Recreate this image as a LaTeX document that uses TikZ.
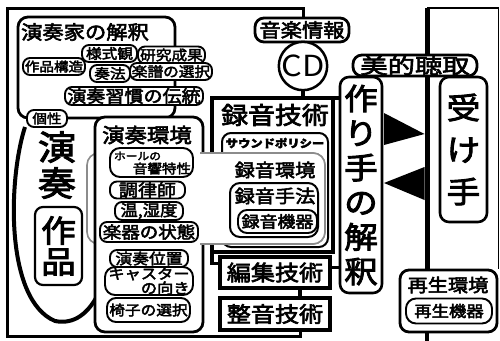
\documentclass[tikz,border=0pt]{standalone}
\usepackage{fontspec}
\setmainfont[FakeStretch=1.12, FakeBold=3]{Noto Sans CJK JP}
\newfontfamily\widefont[FakeStretch=1.3, FakeBold=3]{Noto Sans CJK JP}
\newfontfamily\plainfont[FakeStretch=1.12]{Noto Sans CJK JP}
\usepackage{tikz}
\usetikzlibrary{positioning}

\begin{document}
\begin{tikzpicture}[x=1pt, y=-1pt,
            pill/.style={draw, fill=white, rounded corners=7pt, line width=1.9pt, inner sep=0pt},
            bigbox/.style={draw, fill=white, rounded corners=10pt, line width=2.8pt, inner sep=0pt},
            techbox/.style={draw, fill=white, line width=3.5pt, inner sep=0pt, outer sep=0pt},
            greybox/.style={draw=black!45, fill=white, rounded corners=12pt, line width=1.6pt, outer sep=0pt},
            frameline/.style={line width=3pt},
            techline/.style={line width=3.5pt}]
            \useasboundingbox[fill=white] (0,0) rectangle (500,340);

            % Performer's interpretation
            \node[bigbox, minimum width=157pt, minimum height=101pt] (kaishaku) at (96.5,67.5) {};
            \node[font=\fontsize{19}{19}\selectfont] (kaishakutitle) at (85,32) {演奏家の解釈};
            \node[pill, minimum width=62pt, minimum height=17pt, font=\fontsize{13}{13}\selectfont] (kozo) at (54,66.5) {作品構造};
            \node[pill, minimum width=67pt, minimum height=17pt, font=\fontsize{14}{14}\selectfont] (kenkyu) at (171.5,55) {研究成果};
            \node[pill, minimum width=55pt, minimum height=17pt, font=\fontsize{14}{14}\selectfont] (yoshiki) at (109.5,53.5) {様式観};
            \node[pill, minimum width=82pt, minimum height=17pt, font=\fontsize{14}{14}\selectfont] (gakufu) at (171,71.5) {楽譜の選択};
            \node[pill, minimum width=40pt, minimum height=17pt, font=\fontsize{14}{14}\selectfont] (soho) at (110,73.5) {奏法};
            \node[pill, minimum width=138pt, minimum height=18pt, font=\fontsize{17}{17}\selectfont] (shukan) at (134,96) {演奏習慣の伝統};

            % Performance and the work
            \draw[line width=4pt] (25,127) .. controls (8,180) and (5,300) .. (55,321) .. controls (75,325) and (88,312) .. (96,298);
            \node[pill, minimum width=40pt, minimum height=17pt, font=\fontsize{13}{13}\selectfont] (kosei) at (47,118.5) {個性};
            \node[font=\fontsize{34}{34}\selectfont] (en) at (57,147) {演};
            \node[font=\fontsize{34}{34}\selectfont] (so) at (57,183) {奏};
            \node[bigbox, rounded corners=8pt, line width=2.2pt, minimum width=47pt, minimum height=78pt, align=center, font=\fontsize{31}{31}\selectfont] (sakuhin) at (58.5,246) {作\\品};

            % Recording technique
            \node[techbox, minimum width=121pt, minimum height=154pt] (rokuon) at (272.5,175) {};
            \node[font=\fontsize{24}{24}\selectfont] (rokuontitle) at (275,115) {録音技術};
            \node[draw, fill=white, rounded corners=9pt, line width=2pt, minimum width=106pt, minimum height=114pt] (policy) at (275,190) {};
            \node[font=\bfseries\fontsize{11}{11}\selectfont] (policytitle) at (275,143) {サウンドポリシー};

            % Recording environment, behind the performing environment
            \node[greybox, minimum width=238pt, minimum height=91pt] (kankyo) at (206,198.5) {};

            % Performing environment
            \node[bigbox, minimum width=108pt, minimum height=215pt] (enso) at (149,224.5) {};
            \node[font=\fontsize{20}{20}\selectfont] (ensotitle) at (147,135) {演奏環境};
            \node[pill, rounded corners=10pt, minimum width=83pt, minimum height=29pt] (hall) at (151.5,162.5) {};
            \node[font=\fontsize{10.5}{10.5}\selectfont] (halltop) at (137.5,156) {ホールの};
            \node[font=\fontsize{13}{13}\selectfont] (hallbottom) at (162,168.5) {音響特性};
            \node[pill, minimum width=75pt, minimum height=17pt, font=\fontsize{17}{17}\selectfont] (choritsu) at (147.5,190) {調律師};
            \node[pill, minimum width=68pt, minimum height=18pt, font=\fontsize{15.5}{15.5}\selectfont] (ondo) at (149,211) {温,湿度};
            \node[pill, minimum width=98pt, minimum height=20pt, font=\fontsize{16.5}{16.5}\selectfont] (gakki) at (149,232) {楽器の状態};
            \node[pill, minimum width=78pt, minimum height=17pt, font=\fontsize{15}{15}\selectfont] (ichi) at (149,258.5) {演奏位置};
            \node[pill, rounded corners=10pt, minimum width=88pt, minimum height=28pt, align=right, font=\fontsize{14.5}{13}\selectfont] (caster) at (149,281) {キャスター\\の向き};
            \node[pill, rounded corners=9pt, minimum width=83pt, minimum height=24pt, font=\fontsize{14}{14}\selectfont] (isu) at (148.5,310) {椅子の選択};

            % Recording environment again, over the right edge of the performing environment
            \begin{scope}
                \clip (200,140) rectangle (340,260);
                \draw[greybox] (kankyo.north west) rectangle (kankyo.south east);
            \end{scope}
            \node[font=\fontsize{18}{18}\selectfont] (kankyotitle) at (275,170) {録音環境};
            \node[draw, fill=white, rounded corners=10pt, line width=2pt, minimum width=88pt, minimum height=54pt] (shuho) at (274,210) {};
            \node[font=\fontsize{18}{18}\selectfont] (shuhotitle) at (275,196) {録音手法};
            \node[pill, rounded corners=9pt, minimum width=79pt, minimum height=23pt, font=\fontsize{16}{16}\selectfont] (kiki) at (277.5,221.5) {録音機器};

            % Editing and mastering
            \node[techbox, minimum width=110pt, minimum height=31pt, font=\fontsize{21.5}{21.5}\selectfont] (henshu) at (275,272.5) {編集技術};
            \node[techbox, minimum width=110pt, minimum height=32pt, font=\fontsize{21.5}{21.5}\selectfont] (seion) at (275,314) {整音技術};
            \draw[techline] (rokuon.south west) |- ([yshift=9pt]henshu.west);
            \draw[techline] ([xshift=25pt]henshu.south) -- ([xshift=25pt]seion.north);

            % Music information and CD
            \node[bigbox, rounded corners=9pt, minimum width=94pt, minimum height=24pt, font=\fontsize{19}{19}\selectfont] (joho) at (302,30) {音楽情報};
            \node[circle, draw, fill=white, line width=2.5pt, minimum size=46pt, inner sep=0pt, font=\plainfont\fontsize{29}{29}\selectfont] (cd) at (303,66) {CD};
            \draw[techline] (cd.south) -- (cd.south |- rokuon.north);

            % Frame of the performer side
            \coordinate (topleft) at (7,8);
            \coordinate (bottomleft) at (7,336);
            \draw[frameline] ([xshift=1pt]joho.north) |- (topleft) -- (bottomleft) -| ([xshift=25pt]seion.south);

            % Playback environment and the listener's frame
            \node[bigbox, rounded corners=9pt, minimum width=97pt, minimum height=62pt] (saisei) at (448.5,301) {};
            \node[font=\fontsize{18}{18}\selectfont] (saiseititle) at (448,285) {再生環境};
            \node[pill, rounded corners=10pt, minimum width=86pt, minimum height=25pt, font=\fontsize{15.5}{15.5}\selectfont] (saiseikiki) at (449,311) {再生機器};
            \coordinate (righttop) at (427,8);
            \draw[line width=1.5pt] (righttop) -| (saisei.north east);
            \draw[line width=5pt] (righttop) -- (righttop |- saisei.north);
            \draw[line width=4pt] (righttop |- saisei.south) -- ++(0,10);

            % Maker and receiver
            \node[bigbox, rounded corners=9pt, line width=2.6pt, minimum width=42pt, minimum height=216pt, align=center, font=\fontsize{30}{34.6}\selectfont] (tsukuri) at (361,185) {作\\り\\手\\の\\解\\釈};
            \draw[techline] (rokuon.north east) -- (rokuon.north east -| tsukuri.west);
            \draw[techline] ([yshift=5pt]henshu.east) -- ([yshift=5pt]henshu.east -| tsukuri.west);
            \node[bigbox, rounded corners=9pt, line width=2.6pt, minimum width=47pt, minimum height=145pt, align=center, font=\fontsize{30}{42}\selectfont] (ukete) at (463.5,149.5) {受\\け\\手};
            \fill (384,113) -- (424.5,134) -- (384,145) -- cycle;
            \fill (424.5,167) -- (384,183) -- (424.5,200) -- cycle;
            \node[bigbox, rounded corners=9pt, minimum width=124pt, minimum height=21pt, font=\widefont\fontsize{21}{21}\selectfont] (biteki) at (415,65.5) {美的聴取};
        \end{tikzpicture}
\end{document}
